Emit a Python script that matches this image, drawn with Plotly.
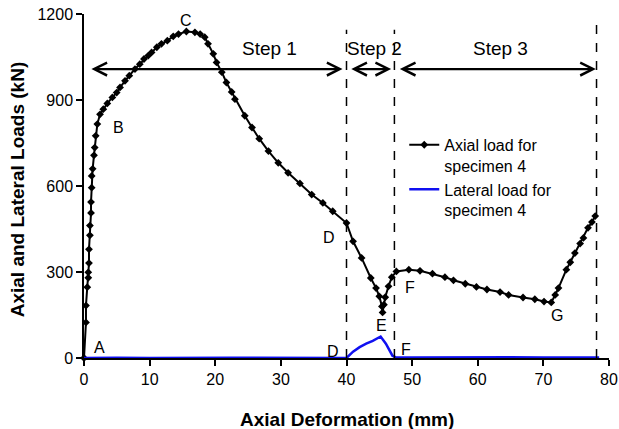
import plotly.graph_objects as go

# ---- data ----
axial_x = [0, 0.3, 0.3, 0.5, 0.65, 0.65, 0.76, 0.76, 0.9, 0.9, 1.07, 1.07, 1.17, 1.17, 1.32,
           1.52, 1.63, 1.78, 2.03, 2.44, 2.94, 3.55, 4.32, 4.98, 5.49, 6.25, 6.9, 7.77, 8.5,
           9.14, 9.8, 10.3, 11.1, 11.8, 12.7, 13.6, 14.4, 15.6, 16.9, 17.7, 18.4, 18.9, 19.7,
           20.2, 21.0, 21.7, 22.5, 23.0, 24.5, 25.6, 26.7, 28.1, 29.6, 31.1, 32.9, 34.7, 36.4,
           37.9, 40.0, 41.0, 42.3, 43.7, 44.5, 45.0, 45.4, 45.5, 45.7, 45.9, 46.4, 46.9, 47.6,
           49.5, 51.2, 53.1, 55.0, 56.3, 58.1, 59.8, 61.4, 63.4, 64.7, 66.9, 68.7, 70.1, 71.2,
           71.8, 72.3, 73.5, 74.1, 74.8, 75.6, 76.1, 76.8, 77.4, 77.9]
axial_y = [0, 124, 183, 247, 280, 299, 331, 379, 428, 462, 506, 544, 594, 635, 660,
           707, 734, 775, 816, 850, 868, 888, 909, 926, 944, 967, 985, 1008, 1025,
           1043, 1055, 1066, 1084, 1096, 1107, 1122, 1130, 1139, 1136, 1130, 1119, 1096, 1061,
           1031, 997, 961, 928, 903, 845, 804, 765, 722, 681, 646, 609, 570, 541,
           512, 471, 407, 349, 279, 244, 215, 180, 159, 186, 212, 250, 282, 302,
           308, 304, 294, 282, 271, 259, 248, 239, 230, 220, 211, 205, 197, 194,
           220, 244, 308, 334, 366, 399, 419, 454, 474, 495]

lateral_x = [0, 2, 5, 10, 15, 20, 21.5, 22, 22.5, 25, 30, 35, 40, 41, 42, 43, 44, 45.2,
             46, 47, 47.5, 50, 55, 60, 65, 70, 75, 78.5]
lateral_y = [0, 1, 1, 0, 1, 1, 3, 3, 1, 1, 0, 1, 0, 22, 38, 50, 60, 75,
             50, 8, 2, 2, 3, 2, 3, 2, 2, 2]

step_bounds = [0.9, 39.4, 40.5, 46.8, 47.9, 78.0]
step_y = 1008
step_labels = ["Step 1", "Step 2", "Step 3"]
step_label_x = [28.2, 44.2, 63.5]
step_label_y = 1080

divider_x = [40.0, 47.3, 78.1]
divider_top = [1145, 1145, 1165]

point_labels = ["A", "B", "C", "D", "E", "F", "G", "H", "D", "F"]
point_label_x = [2.4, 5.2, 15.5, 37.3, 45.4, 49.7, 72.0, 80.5, 38.0, 49.0]
point_label_y = [35, 805, 1176, 420, 112, 247, 150, 506, 22, 28]

FONT = "Liberation Sans, Arial, sans-serif"

fig = go.Figure()
fig.add_trace(go.Scatter(
    x=axial_x, y=axial_y, mode="lines+markers",
    name="Axial load for<br>specimen 4",
    line=dict(color="black", width=2),
    marker=dict(symbol="diamond", size=6, color="black"),
    cliponaxis=False,
))
fig.add_trace(go.Scatter(
    x=lateral_x, y=lateral_y, mode="lines",
    name="Lateral load for<br>specimen 4",
    line=dict(color="#1010f0", width=2.5),
    cliponaxis=False,
))

# dashed dividers
for xv, top in zip(divider_x, divider_top):
    fig.add_shape(type="line", x0=xv, x1=xv, y0=0, y1=top, xref="x", yref="y",
                  line=dict(color="black", width=1.5, dash="dash"))

# step arrows
for i in range(3):
    fig.add_annotation(x=step_bounds[2 * i + 1], y=step_y, ax=step_bounds[2 * i], ay=step_y,
                       xref="x", yref="y", axref="x", ayref="y", text="",
                       showarrow=True, arrowhead=5, startarrowhead=5, arrowside="end+start",
                       arrowsize=1.15, startarrowsize=1.15, arrowwidth=2.2, arrowcolor="black",
                       standoff=0, startstandoff=0)
for t, xv in zip(step_labels, step_label_x):
    fig.add_annotation(x=xv, y=step_label_y, text=t, showarrow=False, xref="x", yref="y",
                       font=dict(family=FONT, size=19, color="black"))

for t, xv, yv in zip(point_labels, point_label_x, point_label_y):
    fig.add_annotation(x=xv, y=yv, text=t, showarrow=False, xref="x", yref="y",
                       font=dict(family=FONT, size=16, color="black"))

# axis titles
fig.add_annotation(x=0.5, y=-0.178, xref="paper", yref="paper", yanchor="middle",
                   xanchor="center",
                   text="<b>Axial Deformation (mm)</b>", showarrow=False,
                   font=dict(family=FONT, size=19, color="black"))
fig.add_annotation(x=-0.126, y=0.49, xref="paper", yref="paper", textangle=-90,
                   xanchor="center", yanchor="middle",
                   text="<b>Axial and Lateral Loads (kN)</b>", showarrow=False,
                   font=dict(family=FONT, size=19, color="black"))

fig.update_layout(
    width=619, height=429,
    margin=dict(l=84, r=10, t=14, b=71, autoexpand=False),
    paper_bgcolor="white", plot_bgcolor="white",
    font=dict(family=FONT, size=16, color="black"),
    showlegend=True,
    legend=dict(x=0.61, y=0.669, xanchor="left", yanchor="top", valign="top",
                bgcolor="rgba(0,0,0,0)", font=dict(family=FONT, size=16),
                itemwidth=30),
)
fig.update_xaxes(range=[0, 80], tickvals=[0, 10, 20, 30, 40, 50, 60, 70, 80],
                 showgrid=False, zeroline=False, showline=True, linecolor="black",
                 linewidth=1.5, ticks="outside", ticklen=6, tickwidth=1.5, tickcolor="black",
                 tickfont=dict(size=16), automargin=False)
fig.update_yaxes(range=[0, 1200], tickvals=[0, 300, 600, 900, 1200],
                 showgrid=False, zeroline=False, showline=True, linecolor="black",
                 linewidth=1.5, ticks="outside", ticklen=6, tickwidth=1.5, tickcolor="black",
                 tickfont=dict(size=16), automargin=False)

fig.write_html("out.html")
